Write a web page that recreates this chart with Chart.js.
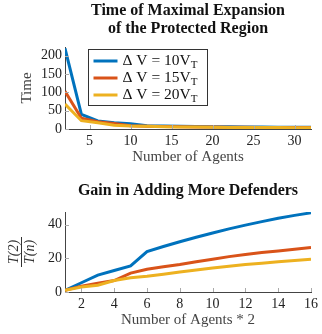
<!DOCTYPE html>
<html>
<head>
<meta charset="utf-8">
<script src="https://cdn.jsdelivr.net/npm/chart.js@4"></script>
<style>
html, body { margin: 0; padding: 0; background: #fff; }
.box { position: relative; width: 322px; }
</style>
</head>
<body>
<div class="box" style="height:170px"><canvas id="timeChart"></canvas></div>
<div class="box" style="height:164px"><canvas id="gainChart"></canvas></div>
<script>
// Data
const agents = [2, 4, 6, 8, 10, 12, 14, 16, 18, 20, 22, 24, 26, 28, 30, 32];
const time10 = [220, 40, 22, 17.2, 14.2, 9.2, 8.1, 7.4, 6.8, 6.3, 5.9, 5.5, 5.3, 5.0, 4.8, 4.7];
const time15 = [103, 29.4, 19.8, 15.1, 9.2, 7.6, 6.9, 6.3, 5.7, 5.3, 4.9, 4.6, 4.4, 4.2, 4.1, 3.9];
const time20 = [68, 22.7, 17, 10, 8, 7.3, 6.4, 5.7, 5.2, 4.8, 4.4, 4.2, 4.0, 3.8, 3.6, 3.5];

const agentPairs = [1, 2, 3, 4, 5, 6, 7, 8, 9, 10, 11, 12, 13, 14, 15, 16];
const gain10 = [1, 5.5, 10, 12.8, 15.5, 24, 27, 29.8, 32.5, 35, 37.5, 39.7, 41.8, 43.8, 45.5, 47];
const gain15 = [1, 3.5, 5.2, 6.8, 11.2, 13.5, 15, 16.3, 18, 19.5, 21, 22.3, 23.4, 24.4, 25.4, 26.4];
const gain20 = [1, 3, 4, 6.8, 8.5, 9.3, 10.6, 11.9, 13.1, 14.3, 15.3, 16.3, 17.1, 17.9, 18.7, 19.5];

const timeTicksX = [5, 10, 15, 20, 25, 30];
const timeTicksY = [0, 50, 100, 150, 200];
const gainTicksX = [2, 4, 6, 8, 10, 12, 14, 16];
const gainTicksY = [0, 20, 40];

const seriesLabels = ['Δ V = 10V', 'Δ V = 15V', 'Δ V = 20V'];
const seriesColors = ['#0072bd', '#d95319', '#edb120'];

const serif = '"Liberation Serif", "DejaVu Serif", serif';

function makeSets(xs, series) {
    return series.map((vals, i) => ({
        label: seriesLabels[i],
        data: xs.map((x, j) => ({ x: x, y: vals[j] })),
        borderColor: seriesColors[i],
        backgroundColor: seriesColors[i],
        borderWidth: 3,
        pointRadius: 0,
        tension: 0,
        order: 2 - i
    }));
}

function fixTicks(list) {
    return scale => { scale.ticks = list.map(v => ({ value: v })); };
}

// small inward tick marks like pgfplots
const innerTicks = {
    id: 'innerTicks',
    afterDatasetsDraw(chart) {
        const ctx = chart.ctx, a = chart.chartArea;
        ctx.save();
        ctx.strokeStyle = '#aaa';
        ctx.lineWidth = 1;
        chart.scales.x.ticks.forEach(t => {
            const px = Math.round(chart.scales.x.getPixelForValue(t.value)) + 0.5;
            ctx.beginPath(); ctx.moveTo(px, a.bottom); ctx.lineTo(px, a.bottom - 4); ctx.stroke();
        });
        chart.scales.y.ticks.forEach(t => {
            const py = Math.round(chart.scales.y.getPixelForValue(t.value)) + 0.5;
            ctx.beginPath(); ctx.moveTo(a.left, py); ctx.lineTo(a.left + 4, py); ctx.stroke();
        });
        ctx.restore();
    }
};

// boxed legend with subscript T
const boxLegend = {
    id: 'boxLegend',
    afterDraw(chart) {
        const ctx = chart.ctx, a = chart.chartArea;
        const x0 = a.left + 23.5, y0 = a.top + 2.5, w = 119, h = 56;
        ctx.save();
        ctx.fillStyle = '#fff';
        ctx.fillRect(x0, y0, w, h);
        ctx.strokeStyle = '#333';
        ctx.lineWidth = 1;
        ctx.strokeRect(x0, y0, w, h);
        chart.data.datasets.forEach((ds, i) => {
            const cy = y0 + 11.5 + i * 17;
            ctx.strokeStyle = ds.borderColor;
            ctx.lineWidth = 3;
            ctx.beginPath(); ctx.moveTo(x0 + 5, cy); ctx.lineTo(x0 + 29, cy); ctx.stroke();
            ctx.fillStyle = '#111';
            ctx.font = '15.5px ' + serif;
            ctx.textBaseline = 'middle';
            ctx.textAlign = 'left';
            ctx.fillText(ds.label, x0 + 34, cy);
            const tw = ctx.measureText(ds.label).width;
            ctx.font = '11px ' + serif;
            ctx.fillText('T', x0 + 34 + tw, cy + 4);
        });
        ctx.restore();
    }
};

// fraction T(2)/T(n) as y axis title
const fracTitle = {
    id: 'fracTitle',
    afterDraw(chart) {
        const ctx = chart.ctx, a = chart.chartArea;
        ctx.save();
        ctx.translate(21, (a.top + a.bottom) / 2);
        ctx.rotate(-Math.PI / 2);
        ctx.fillStyle = '#333';
        ctx.font = 'italic 14px ' + serif;
        ctx.textAlign = 'center';
        ctx.textBaseline = 'alphabetic';
        ctx.fillText('T(2)', 0, -3);
        ctx.fillText('T(n)', 0, 13);
        ctx.strokeStyle = '#333';
        ctx.lineWidth = 1;
        ctx.beginPath(); ctx.moveTo(-15, 0.5); ctx.lineTo(15, 0.5); ctx.stroke();
        ctx.restore();
    }
};

const tickFont = { family: serif, size: 14 };
const titleFont = { family: serif, size: 16, weight: 'bold', lineHeight: 1.125 };

// 1. Time of maximal expansion
new Chart(document.getElementById('timeChart').getContext('2d'), {
    type: 'line',
    data: { datasets: makeSets(agents, [time10, time15, time20]) },
    plugins: [innerTicks, boxLegend],
    options: {
        responsive: true,
        maintainAspectRatio: false,
        animation: false,
        layout: { padding: { left: 0, right: 11, top: 2, bottom: 0 } },
        scales: {
            x: {
                type: 'linear', min: 2, max: 32,
                afterBuildTicks: fixTicks(timeTicksX),
                afterFit: s => { s.height = 41; },
                grid: { display: false, drawTicks: false },
                border: { display: true, color: '#444' },
                ticks: { color: '#222', font: tickFont, padding: 4 },
                title: { display: true, text: 'Number of Agents', color: '#444', font: { family: serif, size: 15 }, padding: { top: 0, bottom: 4 } }
            },
            y: {
                min: 0, max: 224,
                afterBuildTicks: fixTicks(timeTicksY),
                afterFit: s => { s.width = 65; },
                grid: { display: false, drawTicks: false },
                border: { display: true, color: '#444' },
                ticks: { color: '#222', font: tickFont, padding: 3 },
                title: { display: true, text: 'Time', color: '#444', font: { family: serif, size: 15 }, padding: { top: 18, bottom: 0 } }
            }
        },
        plugins: {
            legend: { display: false },
            tooltip: { enabled: false },
            title: {
                display: true,
                fullSize: false,
                text: ['Time of Maximal Expansion', 'of the Protected Region'],
                color: '#111',
                font: titleFont,
                padding: { top: 0, bottom: 9 }
            }
        }
    }
});

// 2. Gain in adding more defenders
new Chart(document.getElementById('gainChart').getContext('2d'), {
    type: 'line',
    data: { datasets: makeSets(agentPairs, [gain10, gain15, gain20]) },
    plugins: [innerTicks, fracTitle],
    options: {
        responsive: true,
        maintainAspectRatio: false,
        animation: false,
        layout: { padding: { left: 0, right: 11, top: 12, bottom: 0 } },
        scales: {
            x: {
                type: 'linear', min: 1, max: 16,
                afterBuildTicks: fixTicks(gainTicksX),
                afterFit: s => { s.height = 42; },
                grid: { display: false, drawTicks: false },
                border: { display: true, color: '#444' },
                ticks: { color: '#222', font: tickFont, padding: 4 },
                title: { display: true, text: 'Number of Agents * 2', color: '#444', font: { family: serif, size: 15 }, padding: { top: 0, bottom: 5 } }
            },
            y: {
                min: 0, max: 47.5,
                afterBuildTicks: fixTicks(gainTicksY),
                afterFit: s => { s.width = 65; },
                grid: { display: false, drawTicks: false },
                border: { display: true, color: '#444' },
                ticks: { color: '#222', font: tickFont, padding: 3 },
                title: { display: false }
            }
        },
        plugins: {
            legend: { display: false },
            tooltip: { enabled: false },
            title: {
                display: true,
                fullSize: false,
                text: 'Gain in Adding More Defenders',
                color: '#111',
                font: titleFont,
                padding: { top: 0, bottom: 12 }
            }
        }
    }
});
</script>
</body>
</html>
